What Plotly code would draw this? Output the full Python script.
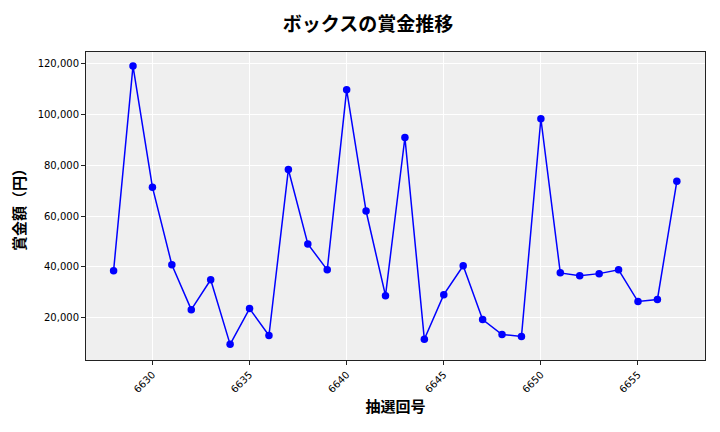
import plotly.graph_objects as go

draws = list(range(6628, 6658))
prizes = [38400, 119200, 71400, 40800, 23100, 34900, 9400, 23500, 12900, 78400,
          49000, 38800, 109800, 62000, 28600, 91000, 11400, 29000, 40400, 19200,
          13300, 12500, 98400, 37600, 36500, 37300, 38800, 26300, 27100, 73700]
x_ticks = [6630, 6635, 6640, 6645, 6650, 6655]
y_ticks = [20000, 40000, 60000, 80000, 100000, 120000]

font = "Noto Sans CJK JP"
fig = go.Figure(go.Scatter(
    x=draws, y=prizes, mode="lines+markers",
    line=dict(color="#0000ff", width=1.5),
    marker=dict(color="#0000ff", size=7.5),
))
fig.update_layout(
    width=720, height=432,
    margin=dict(l=78, r=23, t=44, b=80),
    paper_bgcolor="white", plot_bgcolor="#efefef",
    title=dict(text="<b>ボックスの賞金推移</b>", x=0.5, xanchor="center", y=0.962, yanchor="middle",
               font=dict(family=font, size=19, color="black")),
    showlegend=False,
    font=dict(family=font, color="black"),
)
fig.update_xaxes(
    range=[6626.58, 6658.45], tickvals=x_ticks, ticktext=[str(v) for v in x_ticks],
    tickangle=-45, tickfont=dict(size=10, family="DejaVu Sans", color="black"),
    showgrid=True, gridcolor="white", gridwidth=1, automargin=False,
    showline=True, linecolor="#222", linewidth=1, mirror=True,
    ticks="outside", ticklen=4, tickcolor="#222", zeroline=False,
    title=dict(text="<b>抽選回号</b>", font=dict(size=15, family=font), standoff=6),
)
fig.update_yaxes(
    range=[3230, 124730], tickvals=y_ticks, ticktext=[f"{v:,}" for v in y_ticks],
    tickfont=dict(size=10, family="DejaVu Sans", color="black"),
    showgrid=True, gridcolor="white", gridwidth=1, automargin=False,
    showline=True, linecolor="#222", linewidth=1, mirror=True,
    ticks="outside", ticklen=4, tickcolor="#222", zeroline=False,
    title=dict(text="<b>賞金額（円）</b>", font=dict(size=15, family=font), standoff=10),
)
fig.write_html("out.html")
